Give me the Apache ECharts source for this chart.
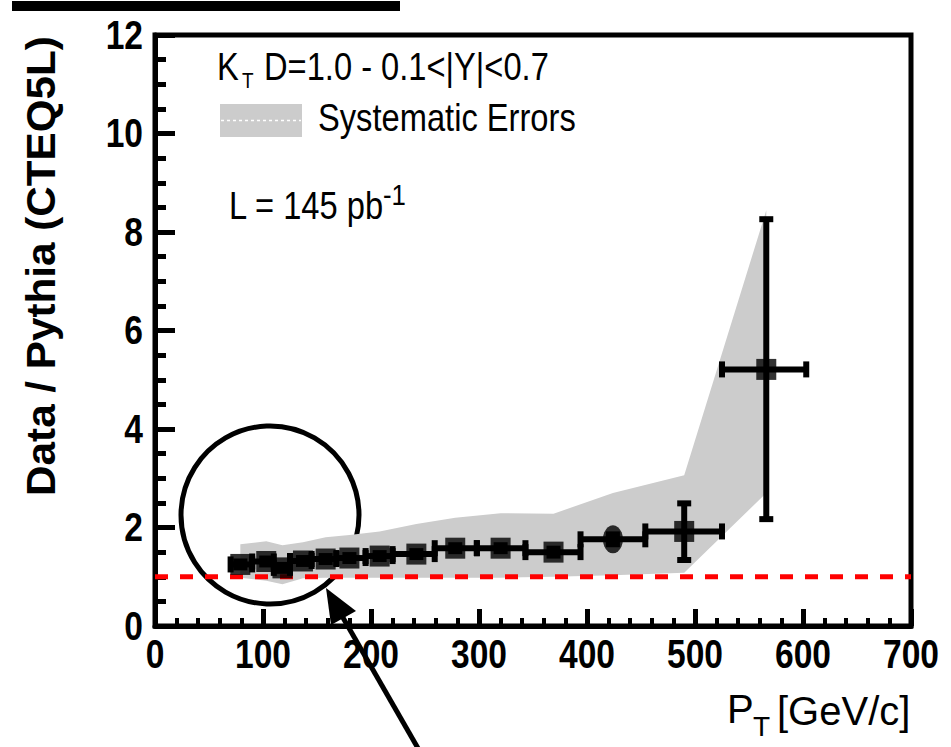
<!DOCTYPE html>
<html>
<head>
<meta charset="utf-8">
<script src="https://cdn.jsdelivr.net/npm/echarts@6/dist/echarts.min.js"></script>
<style>
  html, body { margin: 0; padding: 0; background: #ffffff; }
  #chart { width: 951px; height: 747px; }
</style>
</head>
<body>
<div id="chart"></div>
<script>
// Measured ratio points: bin centre, value, bin edges and statistical errors
const ptCenter = [79, 103, 118, 137, 158, 180, 208, 242, 278, 320, 369, 424, 490, 566];
const ratio    = [1.25, 1.31, 1.18, 1.32, 1.36, 1.38, 1.42, 1.46, 1.58, 1.58, 1.50, 1.76, 1.92, 5.21];
const ptLow    = [70, 90, 110, 125, 145, 168, 195, 220, 259, 298, 343, 394, 454, 525];
const ptHigh   = [90, 110, 125, 145, 168, 195, 220, 259, 298, 343, 394, 454, 525, 603];
const statLow  = [1.19, 1.25, 1.12, 1.26, 1.30, 1.32, 1.36, 1.40, 1.52, 1.52, 1.43, 1.66, 1.34, 2.17];
const statHigh = [1.31, 1.37, 1.24, 1.38, 1.42, 1.44, 1.48, 1.52, 1.64, 1.64, 1.57, 1.86, 2.49, 8.26];
// the point drawn with a round marker instead of a square
const roundMarkerIdx = [11];

// Systematic error band (upper and lower envelope at each bin centre)
const sysUpper = [1.66, 1.72, 1.64, 1.70, 1.80, 1.85, 1.92, 2.07, 2.20, 2.29, 2.28, 2.70, 3.06, 8.44];
const sysLower = [0.98, 0.92, 0.85, 0.97, 0.98, 0.98, 0.98, 0.98, 0.98, 0.98, 1.00, 1.03, 1.08, 2.70];

// Reference line at ratio = 1
const refX = [0, 700];
const refY = [1, 1];

// Tick labels
const xTickValues = [0, 100, 200, 300, 400, 500, 600, 700];
const xTickLabels = ['0', '100', '200', '300', '400', '500', '600', '700'];
const yTickValues = [0, 2, 4, 6, 8, 10, 12];
const yTickLabels = ['0', '2', '4', '6', '8', '10', '12'];

const SANS = '"Liberation Sans", Arial, Helvetica, sans-serif';
const NARROW = 0.84;     // horizontal squeeze for the condensed lettering

const chart = echarts.init(document.getElementById('chart'), null, { renderer: 'svg' });

const squareData = [];
const roundData = [];
ptCenter.forEach((x, i) => {
  (roundMarkerIdx.includes(i) ? roundData : squareData).push([x, ratio[i]]);
});

// helper for a left/centre/right anchored text with optional squeeze
function label(text, x, y, font, opts) {
  opts = opts || {};
  return {
    type: 'text', x: x, y: y,
    scaleX: opts.scaleX || 1,
    rotation: opts.rotation || 0,
    silent: true,
    style: {
      text: text, font: font, fill: '#000',
      align: opts.align || 'left', verticalAlign: 'middle'
    }
  };
}

const option = {
  backgroundColor: '#ffffff',
  animation: false,
  grid: {
    left: 155, right: 40, top: 35, bottom: 121,
    show: true, borderColor: '#000', borderWidth: 5, backgroundColor: 'transparent'
  },
  xAxis: {
    type: 'value', min: 0, max: 700, interval: 100,
    axisLine: { show: true, lineStyle: { color: '#000', width: 5 } },
    axisTick: { show: true, inside: true, length: 17, lineStyle: { color: '#000', width: 5 } },
    minorTick: { show: true, splitNumber: 5, length: 8, lineStyle: { color: '#000', width: 4 } },
    splitLine: { show: false },
    axisLabel: { show: false }
  },
  yAxis: {
    type: 'value', min: 0, max: 12, interval: 2,
    axisLine: { show: true, lineStyle: { color: '#000', width: 5 } },
    axisTick: { show: true, inside: true, length: 20, lineStyle: { color: '#000', width: 5 } },
    minorTick: { show: true, splitNumber: 4, length: 11, lineStyle: { color: '#000', width: 5 } },
    splitLine: { show: false },
    axisLabel: { show: false }
  },
  series: [
    {
      // systematic band as one polygon through the envelope
      type: 'custom',
      z: 1,
      silent: true,
      data: [[ptCenter[0], sysLower[0]]],
      renderItem: (params, api) => {
        const pts = [];
        ptCenter.forEach((x, i) => pts.push(api.coord([x, sysUpper[i]])));
        for (let i = ptCenter.length - 1; i >= 0; i--) pts.push(api.coord([ptCenter[i], sysLower[i]]));
        return { type: 'polygon', shape: { points: pts }, style: { fill: '#cccccc', stroke: null } };
      }
    },
    {
      type: 'line',
      z: 2,
      symbol: 'none',
      silent: true,
      data: refX.map((x, i) => [x, refY[i]]),
      lineStyle: { color: '#ff0000', width: 5, type: [13, 12] }
    },
    {
      // horizontal bin-width bars and vertical statistical bars with caps
      type: 'custom',
      z: 3,
      silent: true,
      data: ptCenter.map((x, i) => [x, ratio[i], ptLow[i], ptHigh[i], statLow[i], statHigh[i]]),
      encode: { x: 0, y: 1 },
      renderItem: (params, api) => {
        const x = api.value(0), y = api.value(1);
        const pL = api.coord([api.value(2), y]);
        const pR = api.coord([api.value(3), y]);
        const pB = api.coord([x, api.value(4)]);
        const pT = api.coord([x, api.value(5)]);
        const st = { stroke: '#000', lineWidth: 6 };
        const hc = 8, vc = 7;
        return {
          type: 'group',
          children: [
            { type: 'line', shape: { x1: pL[0], y1: pL[1], x2: pR[0], y2: pR[1] }, style: st },
            { type: 'line', shape: { x1: pL[0], y1: pL[1] - hc, x2: pL[0], y2: pL[1] + hc }, style: st },
            { type: 'line', shape: { x1: pR[0], y1: pR[1] - hc, x2: pR[0], y2: pR[1] + hc }, style: st },
            { type: 'line', shape: { x1: pB[0], y1: pB[1], x2: pT[0], y2: pT[1] }, style: st },
            { type: 'line', shape: { x1: pB[0] - vc, y1: pB[1], x2: pB[0] + vc, y2: pB[1] }, style: st },
            { type: 'line', shape: { x1: pT[0] - vc, y1: pT[1], x2: pT[0] + vc, y2: pT[1] }, style: st }
          ]
        };
      }
    },
    {
      type: 'scatter',
      z: 4,
      silent: true,
      symbol: 'rect',
      symbolSize: [20, 21],
      itemStyle: { color: '#000' },
      data: squareData
    },
    {
      type: 'scatter',
      z: 4,
      silent: true,
      symbol: 'circle',
      symbolSize: [20, 28],
      itemStyle: { color: '#000' },
      data: roundData
    }
  ]
};

chart.setOption(option);

// Tick labels in condensed lettering, placed through the axis scales
const tickFont = 'bold 40px ' + SANS;
const xLabels = xTickValues.map((v, i) => {
  const p = chart.convertToPixel({ xAxisIndex: 0, yAxisIndex: 0 }, [v, 0]);
  return label(xTickLabels[i], p[0], p[1] + 28, tickFont, { align: 'center', scaleX: NARROW });
});
const yLabels = yTickValues.map((v, i) => {
  const p = chart.convertToPixel({ xAxisIndex: 0, yAxisIndex: 0 }, [0, v]);
  return label(yTickLabels[i], p[0] - 12, p[1], tickFont, { align: 'right', scaleX: NARROW });
});

const textFont = '38px ' + SANS;
const decorations = [
  // edge of the frame above the plot
  { type: 'rect', shape: { x: 12, y: 1, width: 388, height: 10 }, style: { fill: '#000' }, silent: true },
  // axis titles
  label('Data / Pythia (CTEQ5L)', 41, 266, 'bold 41px ' + SANS, { align: 'center', rotation: Math.PI / 2, scaleX: 1.03 }),
  label('P', 727, 709, '40px ' + SANS),
  label('T', 753, 726, '28px ' + SANS),
  label('[GeV/c]', 777, 711, '40px ' + SANS),
  // selection label
  label('K', 217, 67, textFont, { scaleX: 0.86 }),
  label('T', 242, 80, '22px ' + SANS, { scaleX: 0.86 }),
  label('D=1.0 - 0.1<|Y|<0.7', 264, 67, textFont, { scaleX: 0.86 }),
  // legend swatch for the systematic band
  { type: 'rect', shape: { x: 220, y: 104, width: 82, height: 33 }, style: { fill: '#cccccc' }, silent: true },
  { type: 'line', shape: { x1: 221, y1: 120.5, x2: 301, y2: 120.5 }, style: { stroke: '#ffffff', lineWidth: 1.5, lineDash: [3, 3] }, silent: true },
  label('Systematic Errors', 318, 118, textFont, { scaleX: 0.86 }),
  // luminosity
  label('L = 145 pb', 229, 206, textFont, { scaleX: 0.86 }),
  label('-1', 383, 195, '30px ' + SANS, { scaleX: 0.86 }),
  // highlight circle and arrow
  { type: 'circle', shape: { cx: 270, cy: 515, r: 89 }, style: { fill: 'none', stroke: '#000', lineWidth: 5 }, silent: true },
  { type: 'line', shape: { x1: 419, y1: 750, x2: 338, y2: 609 }, style: { stroke: '#000', lineWidth: 5 }, silent: true },
  { type: 'polygon', shape: { points: [[326, 588], [356, 611], [331, 625]] }, style: { fill: '#000' }, silent: true }
];

chart.setOption({ graphic: xLabels.concat(yLabels, decorations) });
</script>
</body>
</html>
